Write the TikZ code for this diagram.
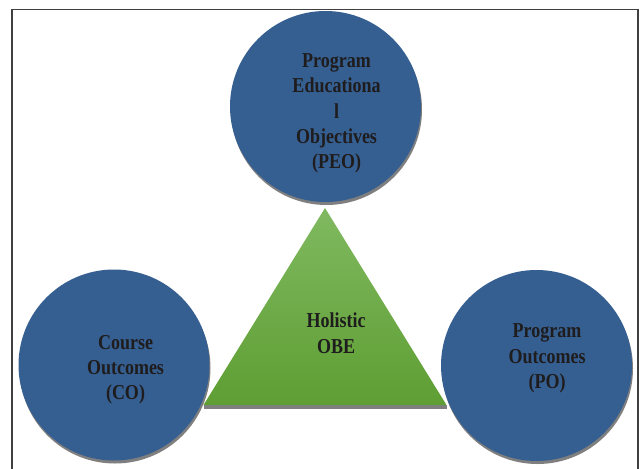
\documentclass[tikz,border=0pt]{standalone}
\usepackage{fontspec}
\usepackage{graphicx}
\setmainfont{Liberation Serif}
\definecolor{circblue}{HTML}{365F91}
\definecolor{txtdark}{HTML}{1E1C1D}
\definecolor{shadowgray}{HTML}{7F7F7F}
\definecolor{greentop}{HTML}{80B960}
\definecolor{greenbot}{HTML}{5E9E33}
\definecolor{framegray}{HTML}{404040}
\newcommand{\tallstack}[1]{\scalebox{1}[1.18]{\fontsize{18}{21.2}\selectfont\bfseries\begin{tabular}{@{}c@{}}#1\end{tabular}}}
\begin{document}
\begin{tikzpicture}[x=1pt,y=-1pt,
  bubble/.style={circle,fill=circblue,minimum size=191pt,inner sep=0pt},
  bubbleshadow/.style={circle,fill=shadowgray,minimum size=191pt,inner sep=0pt},
  lbl/.style={align=center,text=txtdark,inner sep=0pt}]
\useasboundingbox (0,0) rectangle (644,468);
\fill[white] (0,0) rectangle (644,468);
% frame
\draw[framegray,line width=1.2pt] (12,470) -- (12,9.5) -- (638,9.5) -- (638,470);
% shadows
\node[bubbleshadow] (peos) at (326.5,109.5) {};
\node[bubbleshadow] (cos) at (115,368) {};
\node[bubbleshadow] (pos) at (537.5,368.5) {};
% circles
\node[bubble] (peo) at (325.5,106.5) {};
\node[bubble] (co) at (114,365) {};
\node[bubble] (po) at (536.5,365.5) {};
% triangle
\coordinate (apex) at (325,208);
\coordinate (bl) at (203.5,405);
\coordinate (br) at (446.5,405);
\fill[shadowgray] (204,405) rectangle (446.5,408.5);
\shade[top color=greentop,bottom color=greenbot] (apex) -- (br) -- (bl) -- cycle;
% labels
\node[lbl] (peot) at (336.5,113) {\tallstack{Program\\Educationa\\l\\Objectives\\(PEO)}};
\node[lbl] (cot) at (125.5,369.5) {\tallstack{Course\\Outcomes\\(CO)}};
\node[lbl] (pot) at (547,358) {\tallstack{Program\\Outcomes\\(PO)}};
\node[lbl] (obe) at (336,335.5) {\tallstack{Holistic\\OBE}};
\end{tikzpicture}
\end{document}
